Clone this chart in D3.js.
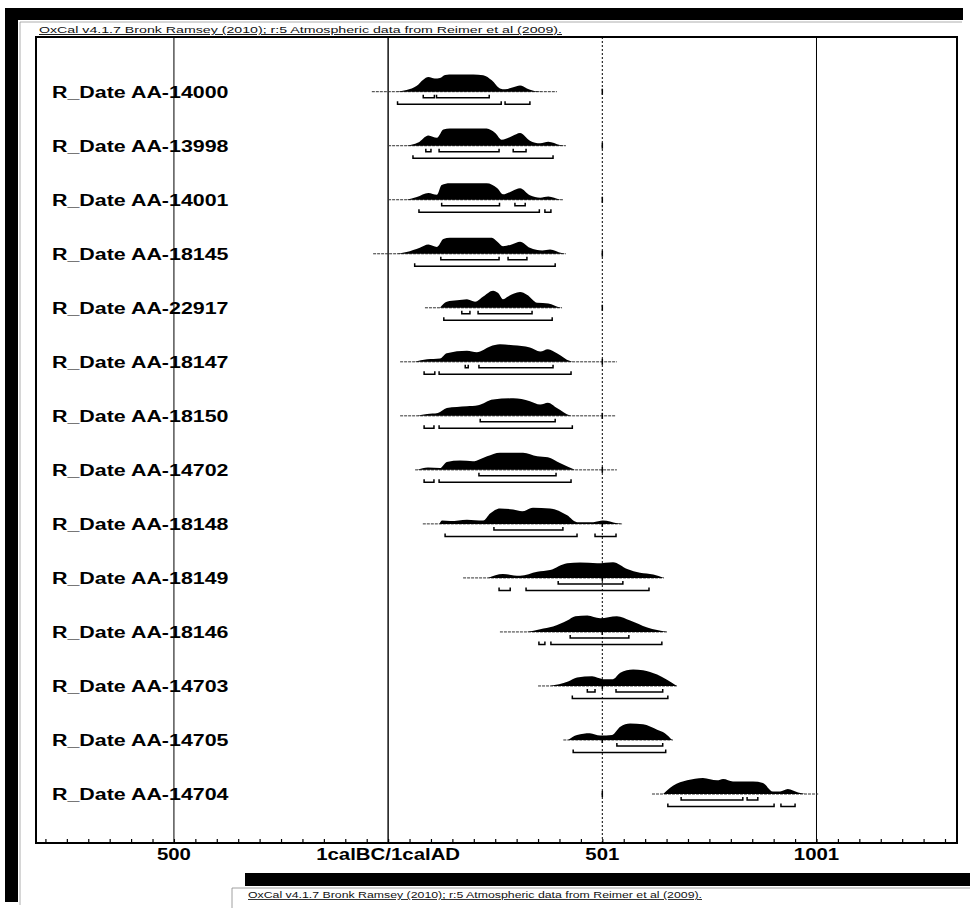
<!DOCTYPE html>
<html>
<head>
<meta charset="utf-8">
<script src="https://cdn.jsdelivr.net/npm/d3@7"></script>
<style>
  body { margin: 0; background: #fff; }
  svg { display: block; }
  text { font-family: "Liberation Sans", Arial, sans-serif; }
</style>
</head>
<body>
<div id="chart-area"></div>
<script>
// OxCal multiplot - R_Date calibrations

var labels = ["R_Date AA-14000", "R_Date AA-13998", "R_Date AA-14001", "R_Date AA-18145",
    "R_Date AA-22917", "R_Date AA-18147", "R_Date AA-18150", "R_Date AA-14702",
    "R_Date AA-18148", "R_Date AA-18149", "R_Date AA-18146", "R_Date AA-14703",
    "R_Date AA-14705", "R_Date AA-14704"];

var tickValues = [-500, 0, 500, 1000];
var tickLabels = ["500", "1calBC/1calAD", "501", "1001"];

var subtitle = "OxCal v4.1.7 Bronk Ramsey (2010); r:5 Atmospheric data from Reimer et al (2009).";

// calibrated probability, [year, relative density]
var densities = [
  [[20,0],[43,0.10],[67,0.34],[82,0.69],[94,0.84],[109,0.75],[121,0.78],[133,0.96],[152,0.98],[199,0.98],[222,0.94],[242,0.65],[261,0.19],[273,0.14],[292,0.25],[308,0.35],[324,0.19],[347,0.02],[360,0]],
  [[43,0],[70,0.18],[94,0.59],[114,0.45],[129,0.92],[144,0.98],[230,0.98],[250,0.72],[265,0.34],[290,0.55],[308,0.72],[331,0.29],[355,0.14],[374,0.22],[401,0.04],[415,0]],
  [[43,0],[67,0.16],[94,0.39],[114,0.29],[125,0.84],[144,0.94],[230,0.94],[255,0.65],[268,0.31],[290,0.50],[308,0.65],[331,0.25],[355,0.12],[374,0.19],[401,0.02],[410,0]],
  [[20,0],[43,0.10],[74,0.35],[94,0.53],[114,0.39],[129,0.84],[144,0.92],[242,0.92],[255,0.69],[268,0.43],[290,0.55],[308,0.69],[331,0.34],[360,0.19],[378,0.24],[405,0.04],[415,0]],
  [[121,0],[137,0.35],[161,0.43],[184,0.49],[203,0.35],[222,0.65],[245,0.98],[257,0.84],[268,0.49],[280,0.65],[308,0.90],[324,0.75],[348,0.29],[374,0.25],[402,0.02],[410,0]],
  [[62,0],[91,0.14],[121,0.19],[137,0.49],[184,0.63],[207,0.55],[238,0.88],[261,1.00],[292,0.94],[331,0.82],[355,0.59],[373,0.72],[394,0.49],[425,0.04],[432,0]],
  [[68,0],[91,0.10],[116,0.16],[137,0.45],[184,0.55],[210,0.61],[245,0.94],[292,1.00],[331,0.84],[355,0.65],[373,0.75],[394,0.45],[425,0.02],[430,0]],
  [[68,0],[93,0.14],[121,0.10],[137,0.45],[168,0.53],[198,0.49],[231,0.78],[261,0.98],[315,0.98],[348,0.78],[373,0.72],[401,0.39],[436,0]],
  [[120,0],[126,0.19],[145,0.16],[184,0.24],[222,0.19],[238,0.59],[261,0.88],[292,0.82],[313,0.72],[338,0.92],[378,0.88],[418,0.49],[441,0.10],[479,0.10],[502,0.19],[534,0.04],[545,0]],
  [[233,0],[268,0.22],[308,0.12],[348,0.35],[378,0.45],[418,0.84],[448,0.88],[488,0.84],[525,0.90],[558,0.51],[588,0.29],[619,0.19],[644,0]],
  [[324,0],[355,0.16],[385,0.31],[418,0.65],[437,0.90],[465,0.94],[495,0.78],[534,0.90],[565,0.65],[605,0.25],[651,0]],
  [[378,0],[420,0.25],[441,0.49],[476,0.55],[502,0.39],[525,0.39],[542,0.75],[572,0.94],[595,0.90],[628,0.65],[651,0.35],[674,0]],
  [[420,0],[441,0.29],[471,0.39],[495,0.25],[523,0.29],[542,0.75],[565,0.94],[595,0.90],[628,0.59],[646,0.39],[663,0]],
  [[642,0],[665,0.47],[698,0.78],[735,0.92],[768,0.78],[782,0.86],[805,0.72],[852,0.71],[875,0.63],[898,0.14],[915,0.14],[933,0.28],[957,0.08],[973,0]]
];

// 68.2% ranges
var ranges68 = [
  [[82,108],[113,236]],
  [[88,100],[119,259],[292,322]],
  [[125,260],[296,320]],
  [[123,259],[280,324]],
  [[172,191],[210,336]],
  [[180,187],[212,385]],
  [[215,390]],
  [[212,392]],
  [[247,408]],
  [[397,548]],
  [[425,562]],
  [[465,483],[532,641]],
  [[534,641]],
  [[684,828],[838,863]]
];

// 95.4% ranges
var ranges95 = [
  [[22,264],[273,331]],
  [[58,385]],
  [[72,353],[366,380]],
  [[62,390]],
  [[130,383]],
  [[84,109],[119,427]],
  [[84,107],[119,430]],
  [[84,107],[119,427]],
  [[133,441],[483,532]],
  [[259,285],[322,609]],
  [[352,366],[380,639]],
  [[430,653]],
  [[432,648]],
  [[653,901],[917,950]]
];

// extent of each baseline
var spans = [[-38,394],[0,415],[0,408],[-35,415],[86,406],[28,534],[28,530],[63,534],
    [81,548],[175,644],[261,651],[350,674],[409,665],[616,1004]];

var frame = { left: 36, right: 957, top: 37, bottom: 843 };

var svg = d3.select("#chart-area")
    .append("svg")
    .attr("width", 970)
    .attr("height", 908);

// window decorations of the scanned page
svg.append("rect").attr("x", 5).attr("y", 8).attr("width", 958).attr("height", 12).attr("fill", "#000");
svg.append("rect").attr("x", 5).attr("y", 8).attr("width", 13).attr("height", 894).attr("fill", "#000");
svg.append("path").attr("d", "M20,905V22H962").attr("fill", "none").attr("stroke", "#999").attr("stroke-width", 0.8);

svg.append("text")
    .attr("x", 39).attr("y", 33)
    .attr("font-size", "9.5px")
    .attr("textLength", 523).attr("lengthAdjust", "spacingAndGlyphs")
    .attr("text-decoration", "underline")
    .attr("fill", "#111")
    .text(subtitle);

// Scales
var x = d3.scaleLinear()
    .domain([-822, 1328])
    .range([frame.left, frame.right]);
var y = d3.scalePoint()
    .domain(labels)
    .range([91.7, 794]);
var h = d3.scaleLinear()
    .domain([0, 1])
    .range([0, -17.5]);

// grid lines at the labelled years
var gridStyle = [
  { w: 1, dash: null },
  { w: 1.4, dash: null },
  { w: 1, dash: "2,2" },
  { w: 1, dash: null }
];
svg.selectAll("line.grid").data(tickValues)
  .enter().append("line")
    .attr("class", "grid")
    .attr("x1", function(d){ return x(d); })
    .attr("x2", function(d){ return x(d); })
    .attr("y1", frame.top)
    .attr("y2", frame.bottom)
    .attr("stroke", "#000")
    .attr("stroke-width", function(d,i){ return gridStyle[i].w; })
    .attr("stroke-dasharray", function(d,i){ return gridStyle[i].dash; });

// minor ticks on the bottom axis
var xAxisCall = d3.axisBottom(x)
    .tickValues(d3.range(-800, 1301, 50))
    .tickSize(-4)
    .tickFormat("");
var xAxis = svg.append("g")
    .attr("class", "x axis")
    .attr("transform", "translate(0," + frame.bottom + ")")
    .call(xAxisCall);
xAxis.select(".domain").remove();
xAxis.selectAll("line").attr("stroke", "#000").attr("stroke-width", 1.2);

// tick labels
svg.selectAll("text.tick-label").data(tickValues)
  .enter().append("text")
    .attr("class", "tick-label")
    .attr("transform", function(d){ return "translate(" + x(d) + ",860) scale(1.2,1)"; })
    .attr("text-anchor", "middle")
    .attr("font-size", "17px")
    .attr("font-weight", "bold")
    .text(function(d,i){ return tickLabels[i]; });

// frame
svg.append("rect")
    .attr("x", frame.left).attr("y", frame.top)
    .attr("width", frame.right - frame.left)
    .attr("height", frame.bottom - frame.top)
    .attr("fill", "none")
    .attr("stroke", "#000")
    .attr("stroke-width", 2);

var area = d3.area()
    .x(function(d){ return x(d[0]); })
    .y0(0)
    .y1(function(d){ return h(d[1]); })
    .curve(d3.curveMonotoneX);

function bracket(r, dy) {
  return "M" + x(r[0]) + "," + (dy - 3) + "V" + dy + "H" + x(r[1]) + "V" + (dy - 3);
}

var rows = svg.selectAll("g.row").data(labels)
  .enter().append("g")
    .attr("class", "row")
    .attr("transform", function(d){ return "translate(0," + y(d) + ")"; });

rows.append("text")
    .attr("transform", "translate(52,6) scale(1.26,1)")
    .attr("font-size", "17px")
    .attr("font-weight", "bold")
    .text(function(d){ return d; });

rows.append("line")
    .attr("x1", function(d,i){ return x(spans[i][0]); })
    .attr("x2", function(d,i){ return x(spans[i][1]); })
    .attr("stroke", "#333")
    .attr("stroke-width", 1)
    .attr("stroke-dasharray", "3,1");

rows.append("line")
    .attr("x1", x(500)).attr("x2", x(500))
    .attr("y1", -3).attr("y2", 3)
    .attr("stroke", "#000")
    .attr("stroke-width", 1.5);

rows.append("path")
    .attr("d", function(d,i){ return area(densities[i]); })
    .attr("fill", "#000");

rows.each(function(d,i){
  var row = d3.select(this);
  row.selectAll("path.r68").data(ranges68[i])
    .enter().append("path")
      .attr("class", "r68")
      .attr("d", function(r){ return bracket(r, 6); })
      .attr("fill", "none").attr("stroke", "#000").attr("stroke-width", 1.5);
  row.selectAll("path.r95").data(ranges95[i])
    .enter().append("path")
      .attr("class", "r95")
      .attr("d", function(r){ return bracket(r, 12.5); })
      .attr("fill", "none").attr("stroke", "#000").attr("stroke-width", 1.5);
});

// next page, cut off at the bottom
svg.append("rect").attr("x", 245).attr("y", 873).attr("width", 725).attr("height", 13).attr("fill", "#000");
svg.append("path").attr("d", "M232,908V888H970").attr("fill", "none").attr("stroke", "#888").attr("stroke-width", 0.8);
svg.append("text")
    .attr("x", 248).attr("y", 898)
    .attr("font-size", "8.5px")
    .attr("textLength", 454).attr("lengthAdjust", "spacingAndGlyphs")
    .attr("text-decoration", "underline")
    .attr("fill", "#111")
    .text(subtitle);
</script>
</body>
</html>
